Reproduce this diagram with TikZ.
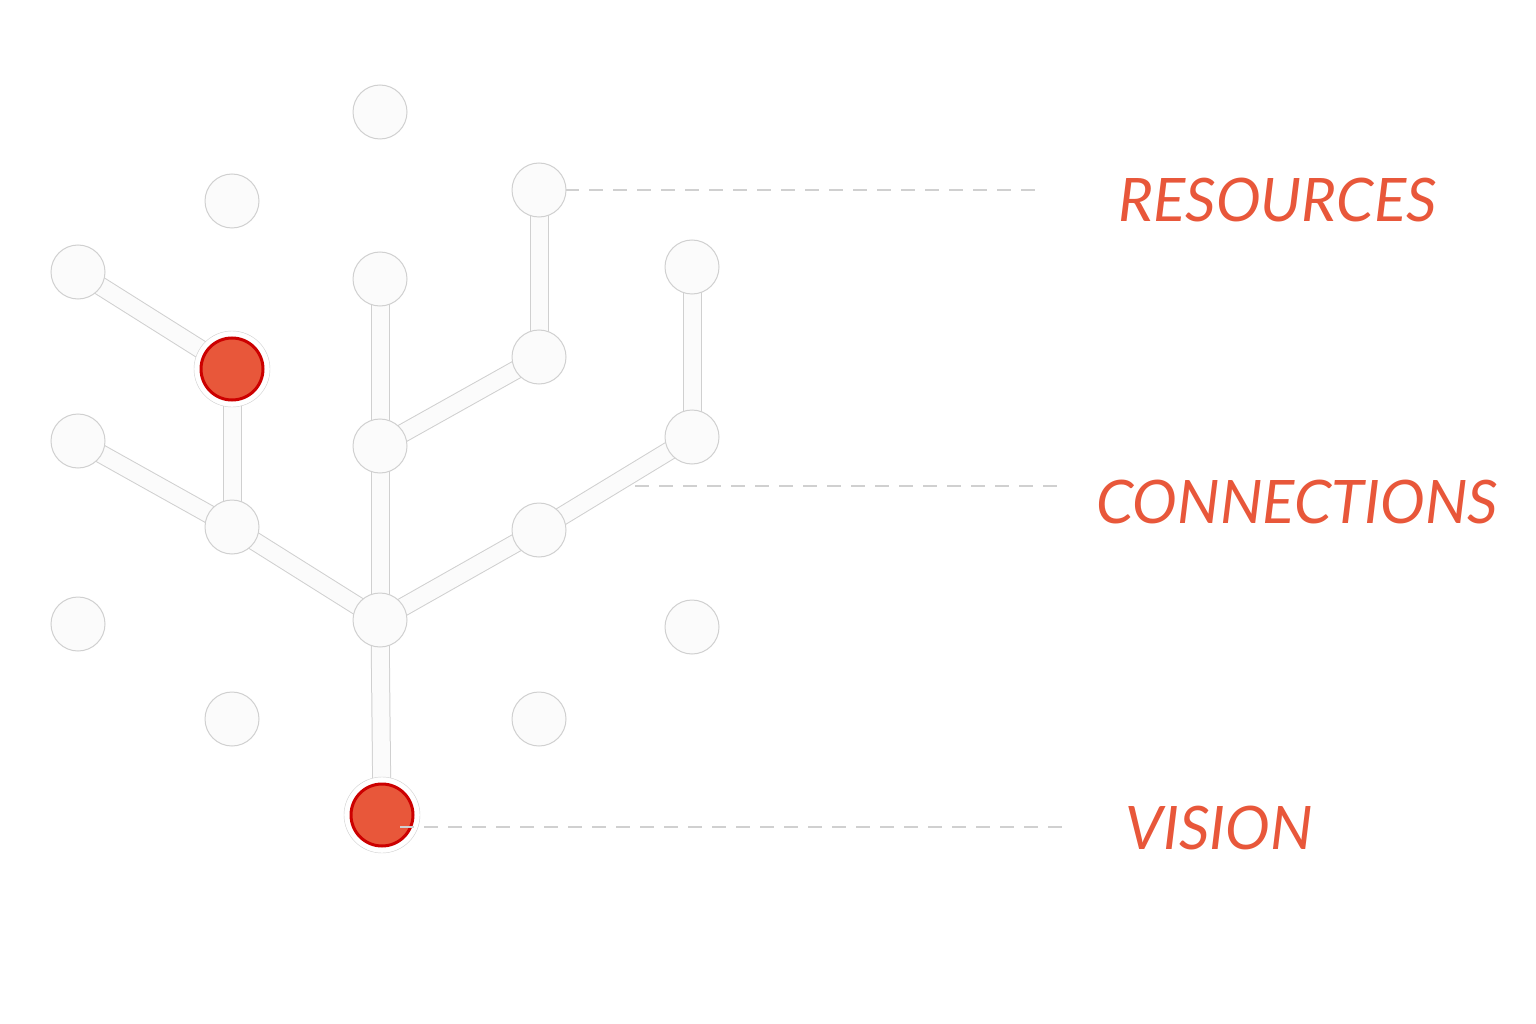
\documentclass[tikz,border=0pt]{standalone}
\usepackage{fontspec}
\setmainfont{Lato}
\usetikzlibrary{positioning}
\definecolor{accent}{HTML}{E8573A}
\definecolor{rim}{HTML}{D0D0D0}
\begin{document}
\begin{tikzpicture}[x=1pt,y=-1pt,
	dot/.style={circle,fill=white!97!gray,draw=rim,line width=1pt,minimum size=54pt,inner sep=0pt},
	hot/.style={circle,fill=accent,draw=red!80!black,line width=1.5pt,minimum size=62pt,inner sep=0pt,
		double=white,double distance=0pt,outer sep=0pt},
	branch/.style={draw=rim,line width=1pt,double=white!97!gray,double distance=17pt},
	guide/.style={draw=rim,line width=1.5pt,dash pattern=on 14pt off 10pt},
	tag/.style={font=\fontsize{60}{60}\selectfont\itshape,text=accent,anchor=west,inner sep=0pt}]
	\useasboundingbox (0,0) rectangle (1536,1024);
	\fill[white] (0,0) rectangle (1536,1024);

	% dashed guides
	\coordinate (gr) at (1045,190);
	\coordinate (gc0) at (635,486);
	\coordinate (gc) at (1065,486);
	\coordinate (gv0) at (400,827);
	\coordinate (gv) at (1065,827);
	\draw[guide] (565,190) -- (gr);
	\draw[guide] (gc0) -- (gc);

	% branches
	\coordinate (pa) at (78,272);
	\coordinate (pb) at (232,369);
	\coordinate (pc) at (78,441);
	\coordinate (pd) at (232,527);
	\coordinate (pe) at (380,620);
	\coordinate (pf) at (380,279);
	\coordinate (pg) at (380,446);
	\coordinate (ph) at (539,357);
	\coordinate (pi) at (539,190);
	\coordinate (pj) at (539,530);
	\coordinate (pk) at (692,437);
	\coordinate (pl) at (692,267);
	\coordinate (pm) at (382,815);
	\foreach \s/\t in {pa/pb,pb/pd,pc/pd,pd/pe,pf/pg,pg/ph,ph/pi,pg/pe,pe/pj,pj/pk,pk/pl,pe/pm}
		\path[branch] (\s) -- (\t);

	% nodes
	\node[dot] (top) at (380,112) {};
	\node[dot] (ul) at (232,201) {};
	\node[dot] (res) at (pi) {};
	\node[dot] (a) at (pa) {};
	\node[dot] (f) at (pf) {};
	\node[dot] (l) at (pl) {};
	\node[dot] (h) at (ph) {};
	\node[dot] (c) at (pc) {};
	\node[dot] (g) at (pg) {};
	\node[dot] (k) at (pk) {};
	\node[dot] (d) at (pd) {};
	\node[dot] (j) at (pj) {};
	\node[dot] (hub) at (pe) {};
	\node[dot] (wl) at (78,624) {};
	\node[dot] (wr) at (692,627) {};
	\node[dot] (bl) at (232,719) {};
	\node[dot] (br) at (539,719) {};
	\node[circle,fill=white,draw=rim,minimum size=76pt] at (pb) {};
	\node[hot] (b) at (pb) {};
	\node[circle,fill=white,draw=rim,minimum size=76pt] at (pm) {};
	\node[hot] (vis) at (pm) {};
	\draw[guide] (gv0) -- (gv);

	% labels
	\node[tag] (tres) at (1118,200) {RESOURCES};
	\node[tag] (tcon) at (1096,502) {CONNECTIONS};
	\node[tag] (tvis) at (1125,828) {VISION};
\end{tikzpicture}
\end{document}
